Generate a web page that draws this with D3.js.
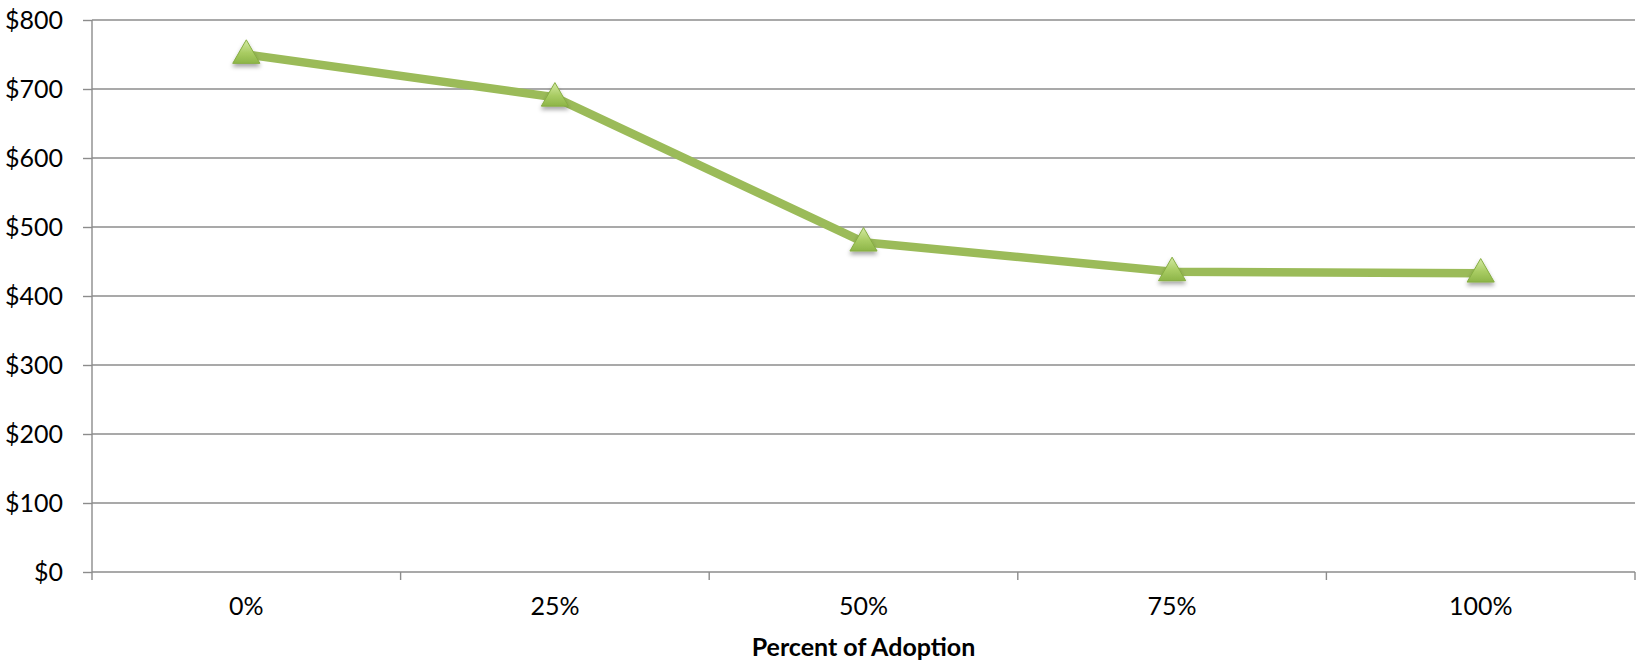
<!DOCTYPE html>
<html>
<head>
<meta charset="utf-8">
<script src="https://cdn.jsdelivr.net/npm/d3@7"></script>
<style>
  html, body { margin: 0; padding: 0; background: #fff; }
  svg { display: block; }
  text { font-family: Lato, "Open Sans", sans-serif; fill: #000; }
</style>
</head>
<body>
<svg id="chart" width="1638" height="663"></svg>
<script>
// Cost per adoption level
const categories = ["0%", "25%", "50%", "75%", "100%"];
const costs = [750, 688, 478, 435, 433];
const yTicks = [0, 100, 200, 300, 400, 500, 600, 700, 800];
const xTitle = "Percent of Adoption";

const svg = d3.select("#chart");
const margin = { left: 92, right: 3, top: 20, bottom: 91 };
const W = 1638, H = 663;
const plotW = W - margin.left - margin.right;
const plotH = H - margin.top - margin.bottom;

const defs = svg.append("defs");
const grad = defs.append("linearGradient")
  .attr("id", "markerFill").attr("x1", 0).attr("y1", 0).attr("x2", 0).attr("y2", 1);
grad.append("stop").attr("offset", "0%").attr("stop-color", "#d4eaa4");
grad.append("stop").attr("offset", "55%").attr("stop-color", "#a9cc63");
grad.append("stop").attr("offset", "100%").attr("stop-color", "#8db548");

const shadow = defs.append("filter").attr("id", "markerShadow")
  .attr("x", "-50%").attr("y", "-50%").attr("width", "200%").attr("height", "200%");
shadow.append("feDropShadow")
  .attr("dx", 0).attr("dy", 3).attr("stdDeviation", 2.2)
  .attr("flood-color", "#000").attr("flood-opacity", 0.35);

const g = svg.append("g").attr("transform", `translate(${margin.left},${margin.top})`);

const x = d3.scaleBand().domain(categories).range([0, plotW]);
const y = d3.scaleLinear().domain([0, 800]).range([plotH, 0]);

// Horizontal gridlines
g.append("g").selectAll("line").data(yTicks).join("line")
  .attr("x1", 0).attr("x2", plotW)
  .attr("y1", d => y(d)).attr("y2", d => y(d))
  .attr("stroke", "#8c8c8c").attr("stroke-width", 1.4);

// Y axis
const yAxis = g.append("g")
  .call(d3.axisLeft(y).tickValues(yTicks).tickFormat(d => "$" + d).tickSize(9).tickPadding(20));
yAxis.select(".domain").attr("stroke", "#8c8c8c").attr("stroke-width", 1.4)
  .attr("d", `M0,0V${plotH + 8}`);
yAxis.selectAll(".tick line").attr("stroke", "#8c8c8c").attr("stroke-width", 1.4);
yAxis.selectAll(".tick text").style("font-size", "25px").attr("fill", "#000");

// X axis with ticks on band boundaries
const xAxis = g.append("g").attr("transform", `translate(0,${plotH})`)
  .call(d3.axisBottom(x).tickSize(0).tickPadding(25));
xAxis.select(".domain").remove();
xAxis.selectAll(".tick text").style("font-size", "25px").attr("fill", "#000");
const bounds = categories.map(c => x(c)).concat([plotW]).slice(1);
xAxis.selectAll("line.sep").data(bounds).join("line").attr("class", "sep")
  .attr("x1", d => d).attr("x2", d => d).attr("y1", 0).attr("y2", 8)
  .attr("stroke", "#8c8c8c").attr("stroke-width", 1.4);

// Axis title
g.append("text")
  .attr("x", plotW / 2).attr("y", plotH + 84)
  .attr("text-anchor", "middle")
  .style("font-size", "25px").style("font-weight", "bold")
  .text(xTitle);

// Series line
const cx = c => x(c) + x.bandwidth() / 2;
const line = d3.line().x((d, i) => cx(categories[i])).y(d => y(d));
g.append("path").datum(costs)
  .attr("d", line)
  .attr("fill", "none")
  .attr("stroke", "#9bbb59")
  .attr("stroke-width", 8.5)
  .attr("stroke-linejoin", "round");

// Triangle markers
const tri = d3.symbol().type(d3.symbolTriangle).size(320);
g.append("g").selectAll("path").data(costs).join("path")
  .attr("d", tri)
  .attr("transform", (d, i) => `translate(${cx(categories[i])},${y(d) + 1})`)
  .attr("fill", "url(#markerFill)")
  .attr("stroke", "#86ad42")
  .attr("stroke-width", 1)
  .attr("filter", "url(#markerShadow)");
</script>
</body>
</html>
